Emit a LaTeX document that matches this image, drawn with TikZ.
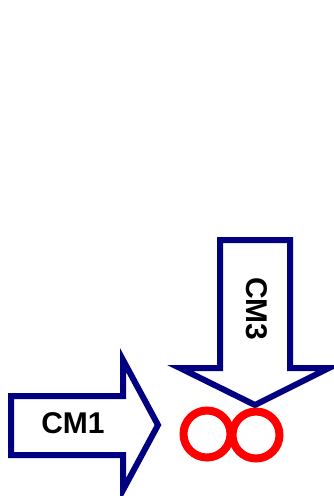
\documentclass[tikz,border=0pt]{standalone}
\usepackage{fontspec}
\setmainfont{Liberation Sans}
\definecolor{navyblue}{RGB}{0,0,128}
\begin{document}
\begin{tikzpicture}[x=1pt,y=-1pt,
  bigarrow/.style={draw=navyblue,line width=6pt,fill=white,line join=miter},
  ring/.style={draw=red,line width=8pt,circle,minimum size=47pt,inner sep=0pt},
  lbl/.style={font=\bfseries\fontsize{30}{30}\selectfont,text=black,inner sep=0pt}]
\useasboundingbox (0,0) rectangle (334,496);
% CM1 arrow
\draw[bigarrow] (11,396) -- (123,396) -- (123,360) -- (158,425) -- (123,490) -- (123,455) -- (11,455) -- cycle;
\node[lbl] (cm1) at (73,423) {CM1};
% CM3 arrow
\draw[bigarrow] (220,240) -- (290,240) -- (290,368) -- (329,368) -- (255,405) -- (180,368) -- (220,368) -- cycle;
\node[lbl,rotate=-90] (cm3) at (257,309) {CM3};
% rings
\node[ring] (r1) at (207,434) {};
\node[ring] (r2) at (256,435) {};
\end{tikzpicture}
\end{document}
